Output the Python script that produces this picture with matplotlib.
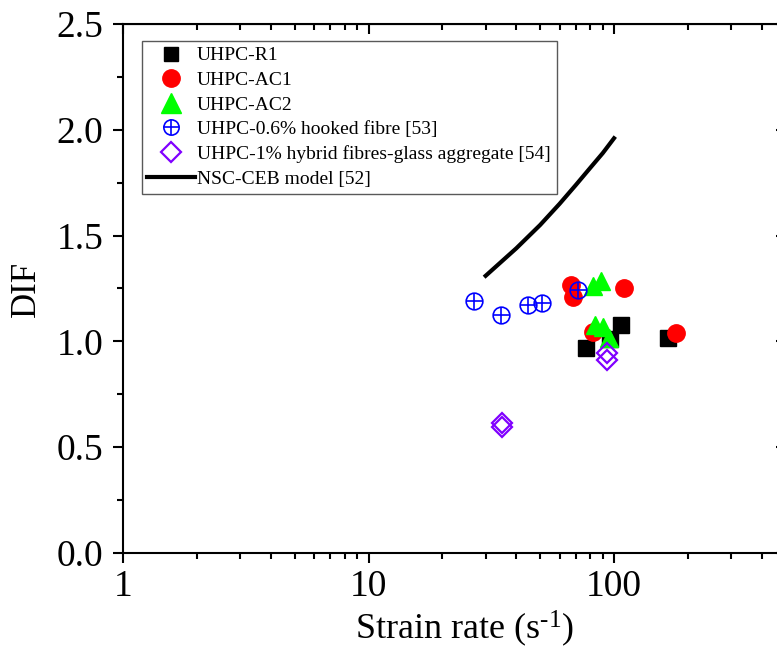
import matplotlib
matplotlib.use('Agg')
import matplotlib.pyplot as plt
from matplotlib.ticker import FixedLocator, NullFormatter, LogLocator, MultipleLocator, FixedFormatter
from matplotlib.legend_handler import HandlerTuple
from matplotlib.lines import Line2D

plt.rcParams['font.family'] = ['Liberation Serif', 'DejaVu Serif']
plt.rcParams['mathtext.fontset'] = 'custom'
plt.rcParams['mathtext.rm'] = 'Liberation Serif'
plt.rcParams['mathtext.it'] = 'Liberation Serif:italic'

# ---- data ----
r1_rate = [76.9, 96.0, 106.8, 166.0]
r1_dif = [0.969, 1.01, 1.076, 1.015]
ac1_rate = [66.8, 67.9, 82.4, 109.8, 178.4]
ac1_dif = [1.267, 1.208, 1.043, 1.252, 1.038]
ac2_rate = [81.9, 88.8, 83.7, 89.9, 95.7]
ac2_dif = [1.263, 1.287, 1.078, 1.070, 1.015]
hook_rate = [27.0, 34.6, 44.8, 50.9, 71.5]
hook_dif = [1.192, 1.125, 1.172, 1.180, 1.243]
hyb_rate = [34.9, 34.9, 93.9, 93.9]
hyb_dif = [0.616, 0.597, 0.947, 0.912]
ceb_rate = [30, 40, 50, 60, 70, 80, 90, 100]
ceb_dif = [1.31, 1.44, 1.55, 1.65, 1.74, 1.82, 1.89, 1.96]

labels = ['UHPC-R1', 'UHPC-AC1', 'UHPC-AC2', 'UHPC-0.6% hooked fibre [53]',
          'UHPC-1% hybrid fibres-glass aggregate [54]', 'NSC-CEB model [52]']
x_ticks = [1, 10, 100]
x_ticklabels = ['1', '10', '100']
y_ticks = [0.0, 0.5, 1.0, 1.5, 2.0, 2.5]

fig = plt.figure(figsize=(7.77, 6.61), dpi=100)
ax = fig.add_axes([0.1583, 0.1634, 0.8528, 0.8003])

ax.plot(r1_rate, r1_dif, ls='none', marker='s', ms=11, color='black', zorder=3)
ax.plot(ac1_rate, ac1_dif, ls='none', marker='o', ms=12.5, color='#ff0000', zorder=4)
ax.plot(ac2_rate, ac2_dif, ls='none', marker='^', ms=13, color='#00ff00', zorder=5)
ax.plot(hook_rate, hook_dif, ls='none', marker='o', ms=12, mfc='none', mec='#0000ff', mew=1.2, zorder=6)
ax.plot(hook_rate, hook_dif, ls='none', marker='+', ms=12, color='#0000ff', mew=1.2, zorder=6)
ax.plot(hyb_rate, hyb_dif, ls='none', marker='D', ms=10.5, mfc='none', mec='#8000ff', mew=1.6, zorder=7)
ax.plot(ceb_rate, ceb_dif, color='black', lw=3, zorder=8)

ax.set_xscale('log')
ax.set_xlim(1, 500)
ax.set_ylim(0, 2.5)
ax.xaxis.set_major_locator(FixedLocator(x_ticks))
ax.xaxis.set_major_formatter(FixedFormatter(x_ticklabels))
ax.xaxis.set_minor_locator(LogLocator(base=10, subs=range(2, 10)))
ax.xaxis.set_minor_formatter(NullFormatter())
ax.yaxis.set_major_locator(FixedLocator(y_ticks))
ax.yaxis.set_minor_locator(MultipleLocator(0.25))
ax.set_yticklabels(['%.1f' % v for v in y_ticks])

for s in ax.spines.values():
    s.set_linewidth(1.5)
ax.tick_params(which='major', direction='out', length=7, width=1.5, labelsize=27, pad=5)
ax.tick_params(axis='y', which='major', pad=7)
ax.tick_params(which='minor', direction='out', length=4, width=1.5)

# mirrored ticks (inward) on top and right
top = ax.secondary_xaxis('top')
top.set_xticks(x_ticks)
top.xaxis.set_minor_locator(LogLocator(base=10, subs=range(2, 10)))
top.xaxis.set_minor_formatter(NullFormatter())
top.tick_params(which='major', direction='in', length=7, width=1.5, labeltop=False)
top.tick_params(which='minor', direction='in', length=4, width=1.5)
right = ax.secondary_yaxis('right')
right.set_yticks(y_ticks)
right.tick_params(which='major', direction='in', length=7, width=1.5, labelright=False)

ax.set_xlabel('Strain rate (s$^{\\mathregular{\u2010}1}$)', fontsize=26)
ax.xaxis.set_label_coords(0.515, -0.105)
ax.set_ylabel('DIF', fontsize=25, labelpad=10)

h_r1 = Line2D([], [], ls='none', marker='s', ms=10, color='black')
h_ac1 = Line2D([], [], ls='none', marker='o', ms=12.5, color='#ff0000')
h_ac2 = Line2D([], [], ls='none', marker='^', ms=14, color='#00ff00')
h_hk1 = Line2D([], [], ls='none', marker='o', ms=11, mfc='none', mec='#0000ff', mew=1.2)
h_hk2 = Line2D([], [], ls='none', marker='+', ms=11, color='#0000ff', mew=1.2)
h_hyb = Line2D([], [], ls='none', marker='D', ms=10, mfc='none', mec='#8000ff', mew=1.6)
h_ceb = Line2D([], [], color='black', lw=3)

leg = ax.legend([h_r1, h_ac1, h_ac2, (h_hk1, h_hk2), h_hyb, h_ceb], labels,
                handler_map={tuple: HandlerTuple(ndivide=1)},
                loc='upper left', bbox_to_anchor=(0.028, 0.968), borderaxespad=0,
                fontsize=14, frameon=True, fancybox=False, edgecolor='0.35',
                framealpha=1, borderpad=0.3, labelspacing=0.36, handlelength=2.45,
                handletextpad=0.1)
leg.get_frame().set_linewidth(1.0)

fig.savefig('out.png', dpi=100)
